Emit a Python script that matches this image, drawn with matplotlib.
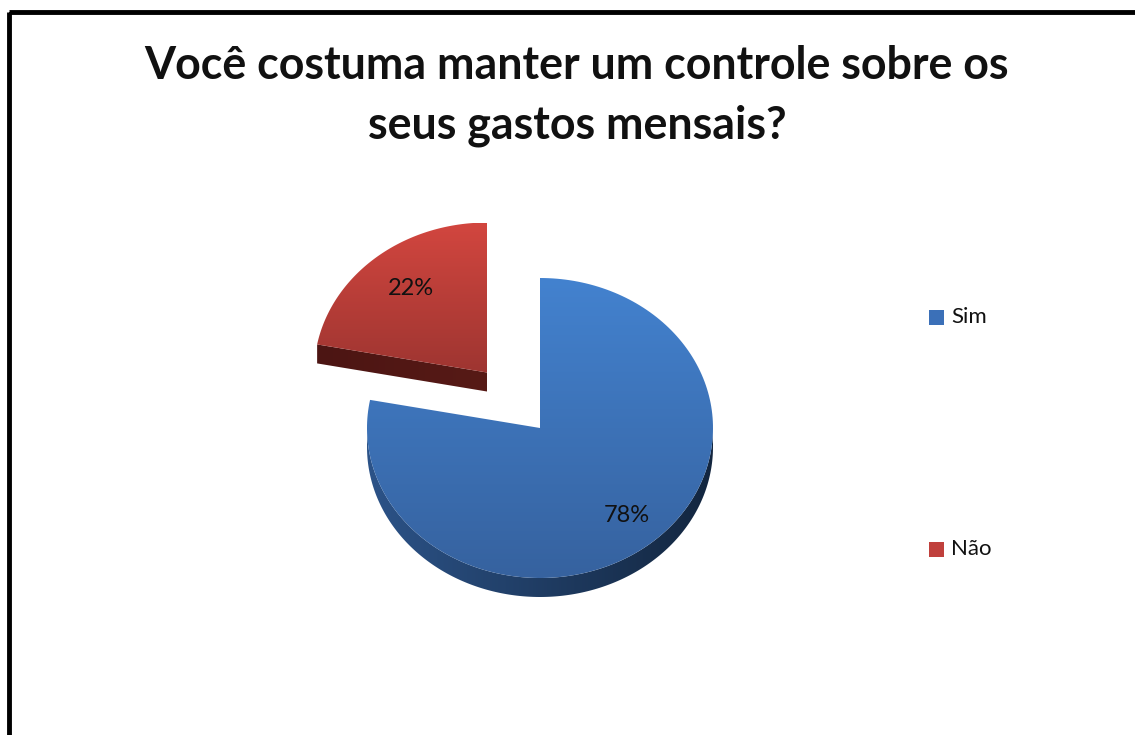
import numpy as np
import matplotlib
matplotlib.use("Agg")
import matplotlib.pyplot as plt
from matplotlib.patches import Polygon, Rectangle
from matplotlib.colors import LinearSegmentedColormap

plt.rcParams["font.family"] = ["Lato", "DejaVu Sans"]

# dados
labels = ["Sim", "Não"]
shares = [78, 22]
explode = [0.0, 0.48]
top_colors = [("#4382cf", "#36629f"), ("#d2463f", "#9e3531")]
side_colors = [("#13263f", "#2c5388"), ("#4c1513", "#571a16")]
legend_colors = ["#3b70b8", "#c0403c"]
title = "Você costuma manter um controle sobre os\nseus gastos mensais?"

# geometria do "3D" (pixels)
CX, CY, RX, RY, DEPTH = 540, 428, 173, 150, 19


def pt(cx, cy, t):
    t = np.radians(t)
    return np.array([cx + RX * np.sin(t), cy - RY * np.cos(t)])


def arc(cx, cy, t0, t1, n=200):
    t = np.radians(np.linspace(t0, t1, n))
    return np.column_stack([cx + RX * np.sin(t), cy - RY * np.cos(t)])


def fill_gradient(ax, verts, c0, c1, horizontal=False):
    poly = Polygon(verts, closed=True, facecolor="none", edgecolor="none")
    ax.add_patch(poly)
    x0, y0 = verts.min(0)
    x1, y1 = verts.max(0)
    cmap = LinearSegmentedColormap.from_list("g", [c0, c1])
    grad = np.linspace(0, 1, 256)
    grad = grad.reshape(1, -1) if horizontal else grad.reshape(-1, 1)
    im = ax.imshow(grad, cmap=cmap, extent=(x0, x1, y1, y0),
                   aspect="auto", origin="upper", interpolation="bilinear")
    im.set_clip_path(poly)


fig = plt.figure(figsize=(11.35, 7.35), dpi=100)
ax = fig.add_axes([0, 0, 1, 1])
ax.set_autoscale_on(False)
ax.set_xlim(0, 1135)
ax.set_ylim(735, 0)
ax.axis("off")

# ângulos (graus, sentido horário a partir do topo)
total = sum(shares)
starts = np.cumsum([0] + shares[:-1]) / total * 360
ends = np.cumsum(shares) / total * 360

# desenha de trás para frente: Não primeiro
for i in [1, 0]:
    t0, t1 = starts[i], ends[i]
    mid = np.radians((t0 + t1) / 2)
    cx = CX + explode[i] * RX * np.sin(mid)
    cy = CY - explode[i] * RY * np.cos(mid)
    center = np.array([cx, cy])
    down = np.array([0, DEPTH])

    # parede curva visível (metade de baixo)
    a0, a1 = max(t0, 90), min(t1, 270)
    if a1 > a0:
        top_arc = arc(cx, cy, a0, a1)
        side = np.vstack([top_arc, (top_arc + down)[::-1]])
        fill_gradient(ax, side, side_colors[i][1], side_colors[i][0], horizontal=True)
    # faces radiais visíveis
    if np.sin(np.radians(t0)) < -1e-6:
        p = pt(cx, cy, t0)
        face = np.array([center, p, p + down, center + down])
        fill_gradient(ax, face, side_colors[i][0], side_colors[i][1], horizontal=True)
    if np.sin(np.radians(t1)) > 1e-6:
        p = pt(cx, cy, t1)
        face = np.array([center, p, p + down, center + down])
        fill_gradient(ax, face, side_colors[i][0], side_colors[i][1], horizontal=True)

    # tampa
    top = np.vstack([center, arc(cx, cy, t0, t1)])
    fill_gradient(ax, top, top_colors[i][0], top_colors[i][1])

    # rótulo de porcentagem
    lr = 0.74
    lx = cx + lr * RX * np.sin(mid) + 5
    ly = cy - lr * RY * np.cos(mid) + 2
    ax.text(lx, ly, f"{shares[i]}%", ha="center", va="center", fontsize=17, color="#111111")

# título
ax.text(577, 96, title, ha="center", va="center", fontsize=32.2, fontweight="bold",
        linespacing=1.5, color="#111111")

# legenda
leg_y = [317, 549]
for lab, col, y in zip(labels, legend_colors, leg_y):
    ax.add_patch(Rectangle((929, y - 7.5), 15, 15, facecolor=col, edgecolor="none"))
    ax.text(951, y, lab, ha="left", va="center", fontsize=16, color="#111111")

# moldura
ax.add_patch(Rectangle((8.5, 11.5), 1200, 800, facecolor="none", edgecolor="black",
                       linewidth=3.5, clip_on=True))

fig.savefig("out.png", dpi=100)
